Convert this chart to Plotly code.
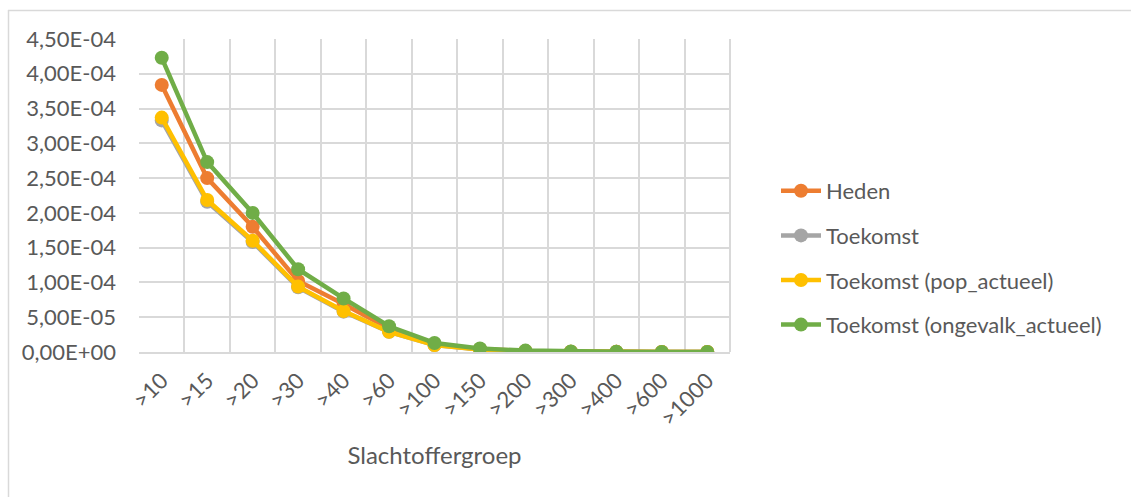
import plotly.graph_objects as go

categories = [">10", ">15", ">20", ">30", ">40", ">60", ">100", ">150", ">200", ">300", ">400", ">600", ">1000"]

heden = [3.84e-4, 2.50e-4, 1.80e-4, 1.02e-4, 6.9e-5, 3.4e-5, 1.1e-5, 4e-6, 1.5e-6, 5e-7, 2e-7, 1e-7, 0]
toekomst = [3.33e-4, 2.16e-4, 1.58e-4, 9.3e-5, 5.8e-5, 2.9e-5, 1.0e-5, 3.5e-6, 1.2e-6, 4e-7, 2e-7, 1e-7, 0]
toekomst_pop = [3.37e-4, 2.185e-4, 1.60e-4, 9.4e-5, 5.9e-5, 2.9e-5, 1.0e-5, 3.5e-6, 1.2e-6, 4e-7, 2e-7, 1e-7, 0]
toekomst_ong = [4.23e-4, 2.73e-4, 2.00e-4, 1.19e-4, 7.7e-5, 3.7e-5, 1.3e-5, 5e-6, 2e-6, 6e-7, 3e-7, 1e-7, 0]

series_names = ["Heden", "Toekomst", "Toekomst (pop_actueel)", "Toekomst (ongevalk_actueel)"]
series_values = [heden, toekomst, toekomst_pop, toekomst_ong]
colors = ["#ED7D31", "#A5A5A5", "#FFC000", "#70AD47"]

y_tickvals = [0, 5e-5, 1e-4, 1.5e-4, 2e-4, 2.5e-4, 3e-4, 3.5e-4, 4e-4, 4.5e-4]
y_ticktext = ["0,00E+00", "5,00E-05", "1,00E-04", "1,50E-04", "2,00E-04", "2,50E-04",
              "3,00E-04", "3,50E-04", "4,00E-04", "4,50E-04"]

FONT = "Lato, 'Open Sans', sans-serif"
TXT = "#595959"

fig = go.Figure()
for i, (name, vals, col) in enumerate(zip(series_names, series_values, colors)):
    fig.add_trace(go.Scatter(
        x=categories, y=vals, name=name, mode="lines+markers",
        legendgroup=f"g{i}",
        line=dict(color=col, width=4.5),
        marker=dict(color=col, size=14),
    ))

W, H = 1131, 497
L, R, T, B = 139, 730, 39, 352
pw, ph = R - L, B - T

def px(x):
    return (x - L) / pw

def py(y):
    return (B - y) / ph

fig.update_layout(
    width=W, height=H,
    margin=dict(l=L, r=W - R, t=T, b=H - B, autoexpand=False),
    paper_bgcolor="white", plot_bgcolor="white",
    font=dict(family=FONT, size=22, color=TXT),
    showlegend=True,
    legend=dict(x=px(776), y=py(170), xanchor="left", yanchor="top",
                font=dict(size=22, color=TXT), tracegroupgap=13,
                itemwidth=40, bgcolor="rgba(0,0,0,0)"),
    xaxis=dict(
        type="category", tickson="boundaries", showgrid=True,
        gridcolor="#D9D9D9", gridwidth=2,
        showline=True, linecolor="#D9D9D9", linewidth=2,
        ticks="", tickangle=-45, tickfont=dict(size=22, color=TXT),
        ticklabelstandoff=5,
        range=[-0.5, len(categories) - 0.5],
        title=dict(text="Slachtoffergroep", font=dict(size=24, color=TXT), standoff=17),
    ),
    yaxis=dict(
        range=[0, 4.5e-4], tickvals=y_tickvals, ticktext=y_ticktext,
        showgrid=True, gridcolor="#D9D9D9", gridwidth=2, zeroline=False,
        showline=False, ticks="", tickfont=dict(size=22, color=TXT),
        ticklabelstandoff=22,
    ),
    shapes=[
        dict(type="line", xref="paper", yref="paper", x0=px(8), x1=px(W), y0=py(10.5), y1=py(10.5),
             line=dict(color="#D9D9D9", width=1.5)),
        dict(type="line", xref="paper", yref="paper", x0=px(8.5), x1=px(8.5), y0=py(10), y1=py(H),
             line=dict(color="#D9D9D9", width=1.5)),
        dict(type="line", xref="paper", yref="paper", x0=1, x1=1, y0=0, y1=1,
             line=dict(color="#D9D9D9", width=2), layer="below"),
    ],
)

fig.write_html("out.html", config={"displayModeBar": False},
               post_script="document.body.style.margin='0';")
